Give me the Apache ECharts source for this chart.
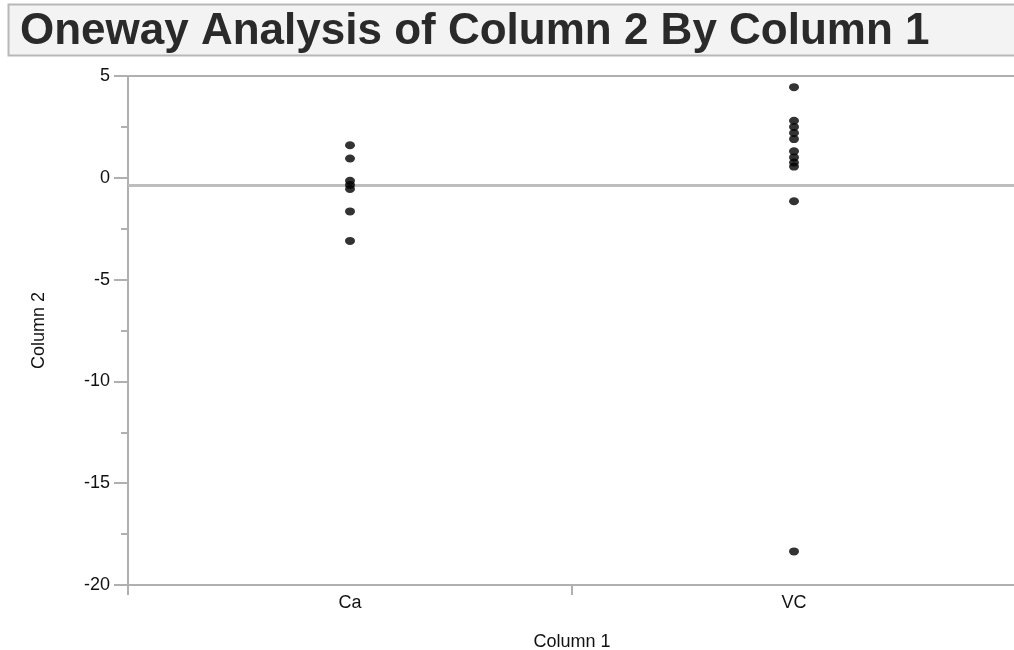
<!DOCTYPE html>
<html>
<head>
<meta charset="utf-8">
<script src="https://cdn.jsdelivr.net/npm/echarts@6/dist/echarts.min.js"></script>
<style>
  html, body { margin: 0; padding: 0; background: #fff; }
  #chart { width: 1014px; height: 650px; }
</style>
</head>
<body>
<div id="chart"></div>
<script>
// groups on the x axis
const categories = ['Ca', 'VC'];
// Column 2 values for each group
const caValues = [1.6, 0.95, -0.15, -0.35, -0.55, -1.65, -3.1];
const vcValues = [4.45, 2.8, 2.5, 2.2, 1.9, 1.3, 1.0, 0.75, 0.55, -1.15, -18.35];
// grand mean reference line
const meanLine = [-0.35];

const axisGrey = '#b0b0b0';
const font = '"Liberation Sans", Arial, Helvetica, sans-serif';

const points = [];
caValues.forEach(v => points.push(['Ca', v]));
vcValues.forEach(v => points.push(['VC', v]));

const chart = echarts.init(document.getElementById('chart'));
chart.setOption({
  backgroundColor: '#fff',
  animation: false,
  textStyle: { fontFamily: font },
  graphic: [{
    type: 'rect',
    z: -1,
    shape: { x: 8.5, y: 4.5, width: 1020, height: 51 },
    style: { fill: '#f3f3f3', stroke: '#b8b8b8', lineWidth: 2 }
  }],
  title: {
    text: 'Oneway Analysis of Column 2 By Column 1',
    left: 15,
    top: 5,
    textStyle: { fontFamily: font, fontSize: 44, fontWeight: 'bold', color: '#2a2a2a' }
  },
  grid: {
    left: 128,
    right: -2,
    top: 76,
    bottom: 65,
    outerBoundsMode: 'none',
    containLabel: false,
    show: true,
    borderColor: axisGrey,
    borderWidth: 2,
    backgroundColor: 'transparent'
  },
  xAxis: {
    type: 'category',
    data: categories,
    boundaryGap: true,
    name: 'Column 1',
    nameLocation: 'middle',
    nameGap: 48,
    nameTextStyle: { fontSize: 18, color: '#111' },
    axisLine: { onZero: false, lineStyle: { color: axisGrey, width: 2 } },
    axisTick: { show: true, length: 10, lineStyle: { color: axisGrey, width: 2 } },
    axisLabel: { fontSize: 18, color: '#111', margin: 9 },
    splitLine: { show: false }
  },
  yAxis: {
    type: 'value',
    min: -20,
    max: 5,
    interval: 5,
    name: 'Column 2',
    nameLocation: 'middle',
    nameRotate: 90,
    nameGap: 80,
    nameTextStyle: { fontSize: 18, color: '#111' },
    axisLine: { show: true, lineStyle: { color: axisGrey, width: 2 } },
    axisTick: { show: true, length: 14, lineStyle: { color: axisGrey, width: 2 } },
    minorTick: { show: true, splitNumber: 2, length: 7, lineStyle: { color: axisGrey, width: 2 } },
    axisLabel: { fontSize: 18, color: '#111', margin: 18 },
    splitLine: { show: false }
  },
  series: [
    {
      type: 'scatter',
      data: [],
      z: 1,
      markLine: {
        silent: true,
        symbol: ['none', 'none'],
        label: { show: false },
        lineStyle: { color: '#bdbdbd', width: 3, type: 'solid' },
        data: meanLine.map(v => ({ yAxis: v }))
      }
    },
    {
      type: 'scatter',
      z: 5,
      data: points,
      symbol: 'circle',
      symbolSize: [10, 8],
      itemStyle: { color: '#000' }
    }
  ]
});
</script>
</body>
</html>
